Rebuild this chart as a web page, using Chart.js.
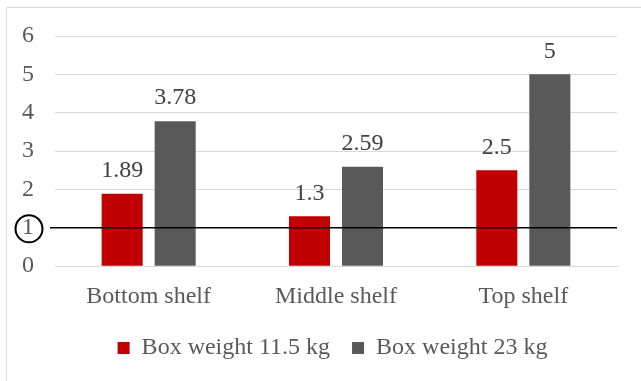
<!DOCTYPE html>
<html>
<head>
<meta charset="utf-8">
<script src="https://cdn.jsdelivr.net/npm/chart.js@4"></script>
<style>
  body { margin: 0; background: #fff; }
  #frame { position: absolute; left: 6px; top: 7px; width: 700px; height: 400px;
           border-left: 1px solid #d9d9d9; border-top: 1px solid #d9d9d9; }
  #wrap { position: absolute; left: 0; top: 0; width: 641px; height: 381px; }
</style>
</head>
<body>
<div id="frame"></div>
<div id="wrap"><canvas id="chart"></canvas></div>
<script>
// shelf test data
var shelves = ['Bottom shelf', 'Middle shelf', 'Top shelf'];
var light = [1.89, 1.3, 2.5];   // 11.5 kg box
var heavy = [3.78, 2.59, 5];    // 23 kg box
var yTicks = [0, 1, 2, 3, 4, 5, 6];
var refValue = 1;

var serif = "'Liberation Serif', 'Times New Roman', serif";

// value labels above each bar
var valueLabels = {
  id: 'valueLabels',
  afterDatasetsDraw: function(chart) {
    var ctx = chart.ctx;
    ctx.save();
    ctx.font = '24px ' + serif;
    ctx.fillStyle = '#404040';
    ctx.textAlign = 'center';
    ctx.textBaseline = 'bottom';
    chart.data.datasets.forEach(function(ds, i) {
      chart.getDatasetMeta(i).data.forEach(function(bar, j) {
        ctx.fillText(String(ds.data[j]), bar.x, bar.y - 11);
      });
    });
    ctx.restore();
  }
};

// black line at y = 1 and the circle round its tick
var refLine = {
  id: 'refLine',
  afterLayout: function(chart) {
    // centre the legend under the plot, not the whole canvas
    chart.legend.left += 24;
    chart.legend.right += 24;
  },
  afterDatasetsDraw: function(chart) {
    var ctx = chart.ctx;
    var y = chart.scales.y.getPixelForValue(refValue);
    ctx.save();
    ctx.strokeStyle = '#000';
    ctx.lineWidth = 1.5;
    ctx.beginPath();
    ctx.moveTo(50, y);
    ctx.lineTo(chart.chartArea.right, y);
    ctx.stroke();
    ctx.lineWidth = 2;
    ctx.beginPath();
    ctx.arc(29, y + 1, 13.5, 0, Math.PI * 2);
    ctx.stroke();
    ctx.restore();
  }
};

new Chart(document.getElementById('chart'), {
  type: 'bar',
  data: {
    labels: shelves,
    datasets: [
      { label: 'Box weight 11.5 kg', data: light, backgroundColor: '#c00000' },
      { label: 'Box weight 23 kg', data: heavy, backgroundColor: '#595959' }
    ]
  },
  options: {
    responsive: true,
    maintainAspectRatio: false,
    animation: false,
    categoryPercentage: 0.566,
    barPercentage: 0.774,
    layout: { padding: { top: 36, right: 24, left: 0, bottom: 11 } },
    scales: {
      x: {
        grid: { display: false },
        border: { color: '#d9d9d9' },
        afterFit: function(scale) { scale.height -= 5; },
        ticks: { color: '#595959', padding: 8, font: { family: serif, size: 24 } }
      },
      y: {
        min: 0,
        max: 6,
        afterFit: function(scale) { scale.width = 55; },
        afterBuildTicks: function(scale) {
          scale.ticks = yTicks.map(function(v) { return { value: v }; });
        },
        grid: { color: '#d9d9d9', drawTicks: false },
        border: { display: false },
        ticks: { color: '#595959', padding: 21, font: { family: serif, size: 24 } }
      }
    },
    plugins: {
      legend: {
        position: 'bottom',
        labels: {
          color: '#595959',
          boxWidth: 12,
          boxHeight: 12,
          padding: 22,
          font: { family: serif, size: 24 }
        }
      },
      tooltip: { enabled: false }
    }
  },
  plugins: [valueLabels, refLine]
});
</script>
</body>
</html>
